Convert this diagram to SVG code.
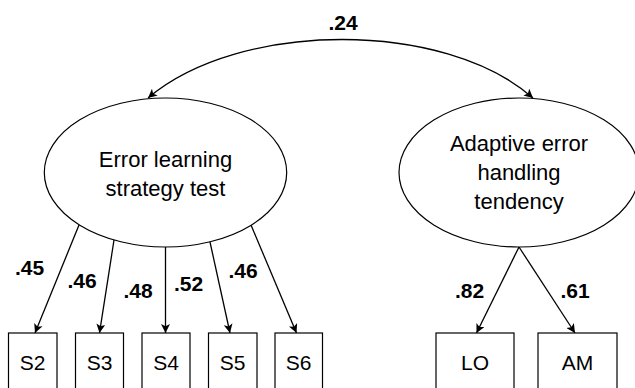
<svg xmlns="http://www.w3.org/2000/svg" width="635" height="388" viewBox="0 0 635 388">
  <style>
    .latent { fill: #ffffff; stroke: #000000; stroke-width: 1.2; }
    .obs { fill: #ffffff; stroke: #000000; stroke-width: 1.2; }
    .lbl { font-family: "Liberation Sans", Arial, sans-serif; font-size: 22px; fill: #000000; text-anchor: middle; }
    .obslbl { font-family: "Liberation Sans", Arial, sans-serif; font-size: 21px; fill: #000000; text-anchor: middle; }
    .coef { font-family: "Liberation Sans", Arial, sans-serif; font-size: 21px; font-weight: bold; fill: #000000; text-anchor: middle; }
    .edge { fill: none; stroke: #000000; stroke-width: 1.3; marker-end: url(#arr); }
  </style>
  <defs>
    <marker id="arr" viewBox="0 0 10 10" refX="10" refY="5" markerWidth="10" markerHeight="9" markerUnits="userSpaceOnUse" orient="auto-start-reverse">
      <path d="M0,0 L10,5 L0,10 L2.5,5 z" fill="#000000"/>
    </marker>
  </defs>

  <g id="connectors">
    <path class="edge" style="marker-start: url(#arr);" d="M148,98 C240,20 445,20 533,98"/>
    <line class="edge" x1="79" y1="225" x2="35" y2="333"/>
    <line class="edge" x1="114" y1="240" x2="99.5" y2="333"/>
    <line class="edge" x1="165.5" y1="247" x2="165.5" y2="333"/>
    <line class="edge" x1="210" y1="242" x2="230" y2="333"/>
    <line class="edge" x1="251" y1="225" x2="296.5" y2="333"/>
    <line class="edge" x1="519" y1="247" x2="476.5" y2="333"/>
    <line class="edge" x1="519" y1="247" x2="575" y2="333"/>
    <text class="coef" x="343" y="30">.24</text>
    <text class="coef" x="29.5" y="275">.45</text>
    <text class="coef" x="82" y="288">.46</text>
    <text class="coef" x="138" y="298">.48</text>
    <text class="coef" x="188.5" y="291">.52</text>
    <text class="coef" x="243" y="278">.46</text>
    <text class="coef" x="469.5" y="298">.82</text>
    <text class="coef" x="575" y="298">.61</text>
  </g>

  <g id="latent-error-learning">
    <ellipse class="latent" cx="165.5" cy="172.5" rx="121.2" ry="74.5"/>
    <text class="lbl" x="165.5" y="166.5">Error learning</text>
    <text class="lbl" x="165.5" y="195.5">strategy test</text>
  </g>

  <g id="latent-adaptive">
    <ellipse class="latent" cx="519" cy="172.5" rx="120" ry="74.5"/>
    <text class="lbl" x="519" y="151">Adaptive error</text>
    <text class="lbl" x="519" y="180">handling</text>
    <text class="lbl" x="519" y="209">tendency</text>
  </g>

  <g id="S2">
    <rect class="obs" x="8.5" y="333" width="48.5" height="70"/>
    <text class="obslbl" x="32.7" y="370">S2</text>
  </g>
  <g id="S3">
    <rect class="obs" x="75.5" y="333" width="48" height="70"/>
    <text class="obslbl" x="99.5" y="370">S3</text>
  </g>
  <g id="S4">
    <rect class="obs" x="142" y="333" width="48" height="70"/>
    <text class="obslbl" x="166" y="370">S4</text>
  </g>
  <g id="S5">
    <rect class="obs" x="208.5" y="333" width="48.5" height="70"/>
    <text class="obslbl" x="232.7" y="370">S5</text>
  </g>
  <g id="S6">
    <rect class="obs" x="275" y="333" width="47.5" height="70"/>
    <text class="obslbl" x="298.7" y="370">S6</text>
  </g>
  <g id="LO">
    <rect class="obs" x="436" y="333" width="78" height="70"/>
    <text class="obslbl" x="475" y="370">LO</text>
  </g>
  <g id="AM">
    <rect class="obs" x="538" y="333" width="79" height="70"/>
    <text class="obslbl" x="577.5" y="370">AM</text>
  </g>
</svg>
